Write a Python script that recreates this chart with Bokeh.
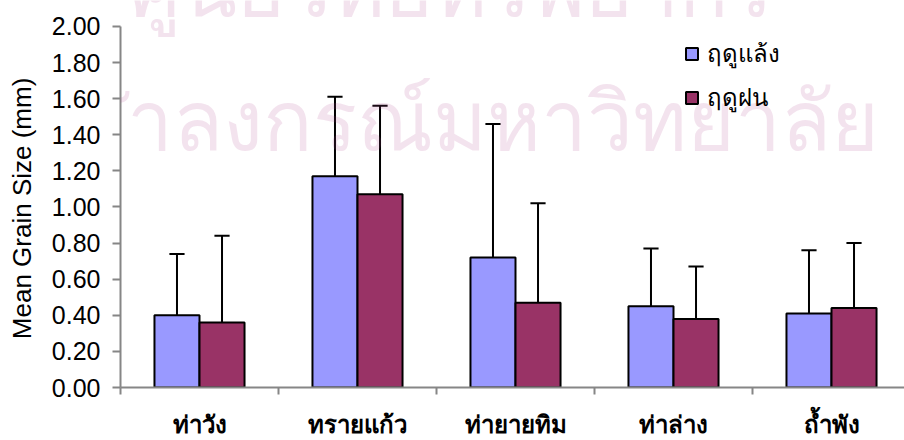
from bokeh.plotting import figure
from bokeh.models import (ColumnDataSource, FixedTicker, Legend, LegendItem, Label,
                          NumeralTickFormatter)
from bokeh.embed import file_html
from bokeh.resources import INLINE

# ---- data ----
categories = ["ท่าวัง", "ทรายแก้ว", "ท่ายายทิม", "ท่าล่าง", "ถ้ำพัง"]
series_names = ["ฤดูแล้ง", "ฤดูฝน"]
dry_mean = [0.40, 1.17, 0.72, 0.45, 0.41]
dry_sd = [0.34, 0.44, 0.74, 0.32, 0.35]
wet_mean = [0.36, 1.07, 0.47, 0.38, 0.44]
wet_sd = [0.48, 0.49, 0.55, 0.29, 0.36]
y_ticks = [0.0, 0.2, 0.4, 0.6, 0.8, 1.0, 1.2, 1.4, 1.6, 1.8, 2.0]
y_label = "Mean Grain Size (mm)"
watermark = ["ศูนย์วิทยทรัพยากร", "จุฬาลงกรณ์มหาวิทยาลัย"]

DRY_COLOR = "#9999FF"
WET_COLOR = "#993366"
AXIS_COLOR = "#868686"
TEXT_COLOR = "#000000"
BAR_W = 0.285
CAP = 0.048

n = len(categories)
centers = [i + 0.5 for i in range(n)]
dry_x = [c - BAR_W / 2 for c in centers]
wet_x = [c + BAR_W / 2 for c in centers]

p = figure(width=904, height=440, output_backend="svg", toolbar_location=None,
           x_range=(0, 4.962), y_range=(0, 2.1436),
           min_border_left=120, min_border_right=0, min_border_top=0, min_border_bottom=52)
p.outline_line_color = None
p.grid.visible = False
p.background_fill_color = "white"

dry_src = ColumnDataSource(dict(x=dry_x, top=dry_mean, up=[m + s for m, s in zip(dry_mean, dry_sd)]))
wet_src = ColumnDataSource(dict(x=wet_x, top=wet_mean, up=[m + s for m, s in zip(wet_mean, wet_sd)]))

# error bars
for src in (dry_src, wet_src):
    p.segment(x0="x", y0="top", x1="x", y1="up", source=src, line_color="black", line_width=2)
    d = src.data
    p.segment(x0=[x - CAP for x in d["x"]], y0=d["up"], x1=[x + CAP for x in d["x"]], y1=d["up"],
              line_color="black", line_width=2)

r_dry = p.vbar(x="x", top="top", width=BAR_W, bottom=0, source=dry_src,
               fill_color=DRY_COLOR, line_color="black", line_width=2)
r_wet = p.vbar(x="x", top="top", width=BAR_W, bottom=0, source=wet_src,
               fill_color=WET_COLOR, line_color="black", line_width=2)

# watermark (translucent so it reads as a faint print behind the chart)
for txt, yv in [(watermark[0], 2.235), (watermark[1], 1.49)]:
    p.add_layout(Label(x=2.09, y=yv, text=txt, text_align="center", text_baseline="alphabetic",
                       text_color="#AF448E", text_alpha=0.15, text_font_size="82px",
                       text_font="Noto Sans", level="annotation"))

# y axis
ya = p.yaxis[0]
ya.bounds = (0, 2.0)
ya.ticker = FixedTicker(ticks=y_ticks)
ya.formatter = NumeralTickFormatter(format="0.00")
ya.axis_label = y_label + "\u00a0" * 4
ya.axis_label_text_font = "Liberation Sans"
ya.axis_label_text_font_style = "normal"
ya.axis_label_text_font_size = "26px"
ya.axis_label_text_color = TEXT_COLOR
ya.axis_label_standoff = 12
ya.major_label_text_font = "Liberation Sans"
ya.major_label_text_font_size = "25px"
ya.major_label_text_color = TEXT_COLOR
ya.major_label_standoff = 12
ya.major_tick_out = 8
ya.major_tick_in = 0
ya.minor_tick_line_color = None
ya.axis_line_color = AXIS_COLOR
ya.axis_line_width = 2
ya.major_tick_line_color = AXIS_COLOR
ya.major_tick_line_width = 2

# x axis
xa = p.xaxis[0]
xa.ticker = FixedTicker(ticks=centers, minor_ticks=list(range(n + 1)))
xa.major_label_overrides = {c: cat for c, cat in zip(centers, categories)}
xa.major_label_text_font = "Liberation Sans"
xa.major_label_text_font_size = "24px"
xa.major_label_text_font_style = "bold"
xa.major_label_text_color = TEXT_COLOR
xa.major_label_standoff = 16
xa.major_tick_line_color = None
xa.minor_tick_out = 7
xa.minor_tick_in = 0
xa.minor_tick_line_color = AXIS_COLOR
xa.minor_tick_line_width = 2
xa.axis_line_color = AXIS_COLOR
xa.axis_line_width = 2

legend = Legend(items=[LegendItem(label=series_names[0], renderers=[r_dry]),
                       LegendItem(label=series_names[1], renderers=[r_wet])],
                location=(564, 270), orientation="vertical",
                glyph_width=15, glyph_height=15, label_height=20, spacing=5,
                padding=0, margin=0, border_line_color=None, background_fill_alpha=0,
                label_text_font="Liberation Sans", label_text_font_size="24px",
                label_text_color=TEXT_COLOR, label_standoff=8)
p.add_layout(legend)

open("out.html", "w").write(file_html(p, INLINE))
